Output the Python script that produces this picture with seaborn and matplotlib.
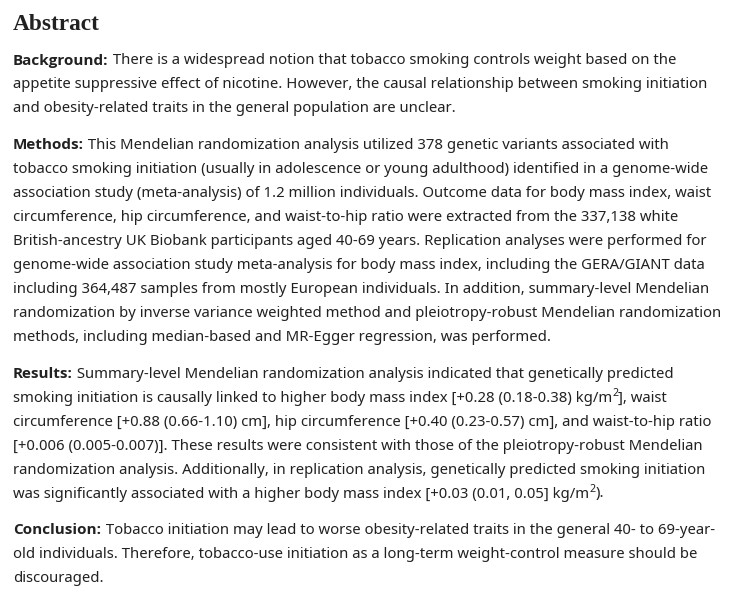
import matplotlib
matplotlib.use("Agg")
import matplotlib.pyplot as plt
from matplotlib import font_manager
import seaborn as sns

# text content, line by line as laid out in the reference; "^2" marks a superscript 2
title = "Abstract"
labels = ["Background:", "Methods:", "Results:", "Conclusion:"]
background = [
    "There is a widespread notion that tobacco smoking controls weight based on the",
    "appetite suppressive effect of nicotine. However, the causal relationship between smoking initiation",
    "and obesity-related traits in the general population are unclear.",
]
methods = [
    "This Mendelian randomization analysis utilized 378 genetic variants associated with",
    "tobacco smoking initiation (usually in adolescence or young adulthood) identified in a genome-wide",
    "association study (meta-analysis) of 1.2 million individuals. Outcome data for body mass index, waist",
    "circumference, hip circumference, and waist-to-hip ratio were extracted from the 337,138 white",
    "British-ancestry UK Biobank participants aged 40-69 years. Replication analyses were performed for",
    "genome-wide association study meta-analysis for body mass index, including the GERA/GIANT data",
    "including 364,487 samples from mostly European individuals. In addition, summary-level Mendelian",
    "randomization by inverse variance weighted method and pleiotropy-robust Mendelian randomization",
    "methods, including median-based and MR-Egger regression, was performed.",
]
results = [
    "Summary-level Mendelian randomization analysis indicated that genetically predicted",
    "smoking initiation is causally linked to higher body mass index [+0.28 (0.18-0.38) kg/m^2], waist",
    "circumference [+0.88 (0.66-1.10) cm], hip circumference [+0.40 (0.23-0.57) cm], and waist-to-hip ratio",
    "[+0.006 (0.005-0.007)]. These results were consistent with those of the pleiotropy-robust Mendelian",
    "randomization analysis. Additionally, in replication analysis, genetically predicted smoking initiation",
    "was significantly associated with a higher body mass index [+0.03 (0.01, 0.05] kg/m^2).",
]
conclusion = [
    "Tobacco initiation may lead to worse obesity-related traits in the general 40- to 69-year-",
    "old individuals. Therefore, tobacco-use initiation as a long-term weight-control measure should be",
    "discouraged.",
]
paragraphs = [background, methods, results, conclusion]

sns.set_theme(style="white")
plt.rcParams["font.family"] = ["Noto Sans", "DejaVu Sans"]


def has_bold(family):
    try:
        path = font_manager.findfont(
            font_manager.FontProperties(family=family, weight="bold"),
            fallback_to_default=False)
    except Exception:
        return False
    name = path.lower()
    return "bold" in name or "-b." in name or "bd." in name


bold_family = next((f for f in ["Noto Sans", "Open Sans", "Roboto", "Lato", "DejaVu Sans"]
                    if has_bold(f)), "DejaVu Sans")

ink = "#212121"
body_size = 10.7
left = 13
line_h = 24
para_gap = 12.5

fig = plt.figure(figsize=(7.41, 5.91), dpi=100)
fig.patch.set_facecolor("white")
ax = fig.add_axes([0, 0, 1, 1])
ax.set_xlim(0, 741)
ax.set_ylim(591, 0)
ax.axis("off")
renderer = fig.canvas.get_renderer()


def put(x, y, s, **kw):
    t = ax.text(x, y, s, va="baseline", ha="left", color=ink, **kw)
    return x + t.get_window_extent(renderer).width


def draw_line(x, y, line):
    parts = line.split("^2")
    for i, part in enumerate(parts):
        if part:
            x = put(x, y, part, fontsize=body_size)
        if i < len(parts) - 1:
            x = put(x, y - 6, "2", fontsize=body_size * 0.72)
    return x


put(left, 30.5, title, fontsize=16.8, fontweight="bold",
    family=["Liberation Serif", "DejaVu Serif"])

y = 64.5
for label, lines in zip(labels, paragraphs):
    for j, line in enumerate(lines):
        x = left
        if j == 0:
            x = put(x, y, label, fontsize=body_size + 0.3, fontweight="bold",
                    family=[bold_family, "DejaVu Sans"])
            x = draw_line(x + 0.5, y, " " + line)
        else:
            draw_line(x, y, line)
        y += line_h
    y += para_gap

fig.savefig("out.png", dpi=100, facecolor="white")
